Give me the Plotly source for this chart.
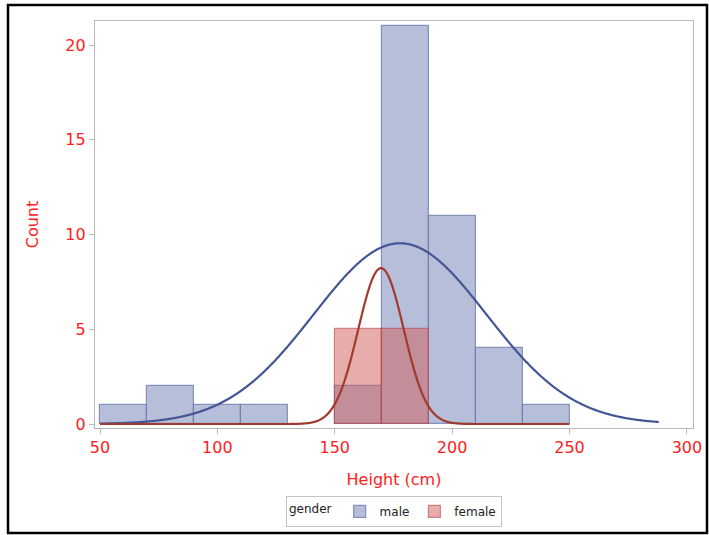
import numpy as np
import plotly.graph_objects as go

# Histogram bins (left edges, width 20 cm)
bin_left = [50, 70, 90, 110, 130, 150, 170, 190, 210, 230]
bin_width = 20
male_counts = [1, 2, 1, 1, 0, 2, 21, 11, 4, 1]
female_counts = [0, 0, 0, 0, 0, 5, 5, 0, 0, 0]

# Fitted normal density parameters (mean, sd) and drawing range for each group
male_fit = {"mean": 177.8, "sd": 36.8, "range": (50, 288)}
female_fit = {"mean": 169.7, "sd": 9.7, "range": (50, 250)}

x_ticks = [50, 100, 150, 200, 250, 300]
y_ticks = [0, 5, 10, 15, 20]

MALE_FILL = "rgba(111,126,179,0.5)"
MALE_EDGE = "rgba(111,126,179,0.8)"
MALE_LINE = "#445694"
FEMALE_FILL = "rgba(208,91,91,0.5)"
FEMALE_EDGE = "rgba(184,70,70,0.6)"
FEMALE_LINE = "#A23A2E"
RED = "#ff2020"
FONT = "DejaVu Sans"


def bars(counts, name, fill, edge):
    xs = [l + bin_width / 2 for l, c in zip(bin_left, counts) if c > 0]
    ys = [c for c in counts if c > 0]
    return go.Bar(
        x=xs, y=ys, width=bin_width, name=name,
        marker=dict(color=fill, line=dict(color=edge, width=1.2)),
    )


def density_curve(counts, fit, color):
    n = sum(counts)
    lo, hi = fit["range"]
    xs = np.linspace(lo, hi, 600)
    pdf = np.exp(-0.5 * ((xs - fit["mean"]) / fit["sd"]) ** 2) / (fit["sd"] * np.sqrt(2 * np.pi))
    return go.Scatter(
        x=xs, y=n * bin_width * pdf, mode="lines", showlegend=False,
        line=dict(color=color, width=2.2, shape="spline"), hoverinfo="skip",
    )


fig = go.Figure()
fig.add_trace(bars(male_counts, "male", MALE_FILL, MALE_EDGE))
fig.add_trace(bars(female_counts, "female", FEMALE_FILL, FEMALE_EDGE))
fig.add_trace(density_curve(male_counts, male_fit, MALE_LINE))
fig.add_trace(density_curve(female_counts, female_fit, FEMALE_LINE))

W, H = 709, 535
ml, mr, mt, mb = 95, 16, 21, 107
pw, ph = W - ml - mr, H - mt - mb


def px_to_paper(px, py):
    return (px - ml) / pw, (H - mb - py) / ph


bx0, by0 = px_to_paper(8, 533)
bx1, by1 = px_to_paper(707, 5)

axis_common = dict(
    showgrid=False, zeroline=False, showline=True, mirror=True,
    linecolor="#b8b8b8", linewidth=1.3,
    ticks="outside", ticklen=5, tickcolor="#b8b8b8", tickwidth=1,
    tickfont=dict(family=FONT, size=16, color=RED),
)

fig.update_layout(
    width=W, height=H, autosize=False,
    margin=dict(l=ml, r=mr, t=mt, b=mb, autoexpand=False),
    paper_bgcolor="white", plot_bgcolor="white",
    barmode="overlay", bargap=0,
    font=dict(family=FONT, color="#222222"),
    xaxis=dict(
        range=[47.87, 302.6], tickvals=x_ticks,
        title=dict(text="Height (cm)", font=dict(family=FONT, size=16, color=RED), standoff=17),
        **axis_common,
    ),
    yaxis=dict(
        range=[-0.21, 21.27], tickvals=y_ticks,
        title=dict(text="Count", font=dict(family=FONT, size=16, color=RED), standoff=22),
        **axis_common,
    ),
    legend=dict(
        orientation="h", x=0.5, xanchor="center", y=-0.167, yanchor="top",
        bordercolor="#c4c4c4", borderwidth=1,
        font=dict(family=FONT, size=12, color="#222222"),
        title=dict(text="gender", side="left", font=dict(family=FONT, size=12, color="#222222")),
        itemwidth=30, tracegroupgap=0,
    ),
    shapes=[dict(
        type="rect", xref="paper", yref="paper",
        x0=bx0, x1=bx1, y0=by0, y1=by1,
        line=dict(color="black", width=2.5), fillcolor="rgba(0,0,0,0)",
    )],
)

fig.write_html("out.html")
